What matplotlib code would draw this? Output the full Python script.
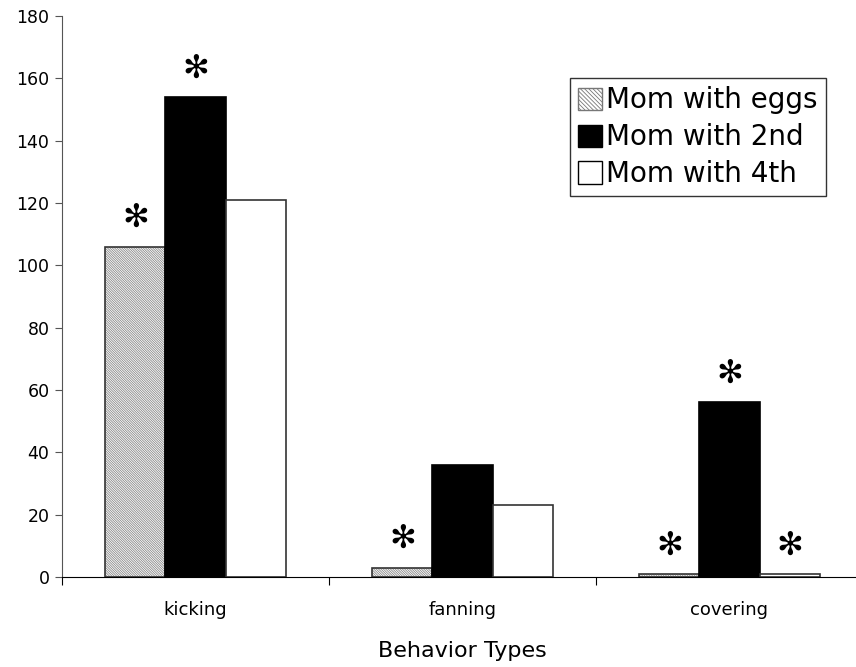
import numpy as np
import matplotlib.pyplot as plt
from matplotlib.patches import Patch

# data
behaviors = ["kicking", "fanning", "covering"]
series = ["Mom with eggs", "Mom with 2nd", "Mom with 4th"]
eggs = [106, 3, 1]
second = [154, 36, 56]
fourth = [121, 23, 1]
# significance stars (True = starred)
star_eggs = [True, True, True]
star_second = [True, False, True]
star_fourth = [False, False, True]

plt.rcParams['font.family'] = ['DejaVu Sans']
plt.rcParams['hatch.linewidth'] = 0.6

fig = plt.figure(figsize=(8.56, 6.67), dpi=100)
ax = fig.add_axes([62/856, 90/667, 801/856, 561/667])

x = np.arange(len(behaviors))
w = 0.225
fine_hatch = '\\' * 14

# hatched bars: hatch in gray, outline drawn on top
ax.bar(x - w, eggs, w, color='white', edgecolor='#8a8a8a', hatch=fine_hatch, linewidth=0)
ax.bar(x - w, eggs, w, color='none', edgecolor='#333333', linewidth=1.2)
ax.bar(x, second, w, color='black', edgecolor='black', linewidth=1.2)
ax.bar(x + w, fourth, w, color='white', edgecolor='#333333', linewidth=1.2)

# legend proxies
handles = [Patch(facecolor='white', edgecolor='#777777', hatch='\\' * 8, linewidth=1),
           Patch(facecolor='black', edgecolor='black'),
           Patch(facecolor='white', edgecolor='black', linewidth=1)]
leg = ax.legend(handles, series, loc='upper left',
                bbox_to_anchor=((570 - 62) / 801, 1 - (78 - 16) / 561),
                bbox_transform=ax.transAxes, fontsize=20, frameon=True, fancybox=False,
                handlelength=0.85, handleheight=0.85, handletextpad=0.15, borderpad=0.3,
                labelspacing=0.32, borderaxespad=0)
leg.get_frame().set_edgecolor('black')
leg.get_frame().set_linewidth(1.0)

# stars
for offs, vals, stars in [(-w, eggs, star_eggs), (0, second, star_second), (w, fourth, star_fourth)]:
    for i in range(len(vals)):
        if stars[i]:
            ax.text(x[i] + offs, vals[i] + 9, "\u273B", ha='center', va='center', fontsize=23)

ax.set_xlim(-0.5, 2.5)
ax.set_ylim(0, 180)
ax.set_yticks(np.arange(0, 181, 20))
ax.set_xticks([-0.5, 0.5, 1.5])
ax.set_xticklabels([])
ax.set_xticks(x, minor=True)
ax.set_xticklabels(behaviors, minor=True, fontsize=13)
ax.tick_params(axis='x', which='minor', length=0, pad=17)
ax.tick_params(axis='x', which='major', length=6, direction='out')
ax.tick_params(axis='y', length=5, direction='out', labelsize=12.5, pad=4, color='#555555')
ax.spines['top'].set_visible(False)
ax.spines['right'].set_visible(False)
ax.spines['left'].set_color('#555555')
ax.set_xlabel("Behavior Types", fontsize=16, labelpad=16)

fig.savefig("out.png", dpi=100)
